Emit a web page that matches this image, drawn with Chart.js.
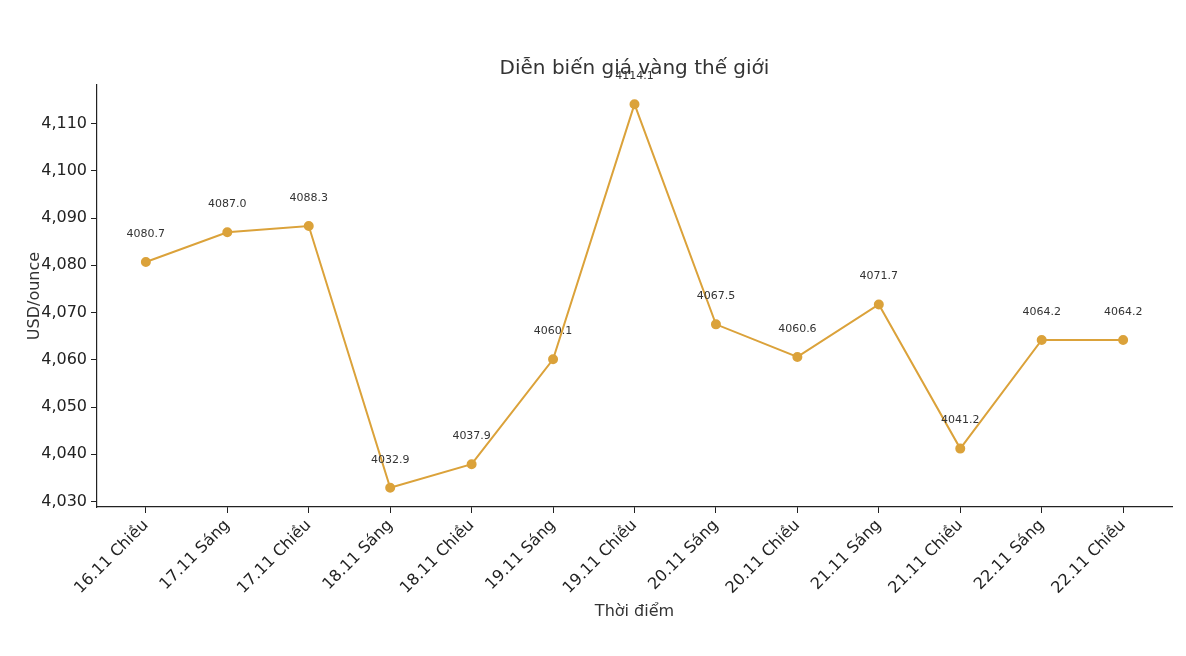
<!DOCTYPE html>
<html><head><meta charset="utf-8">
<script src="https://cdn.jsdelivr.net/npm/chart.js@4"></script>
<style>html,body{margin:0;padding:0;background:#fff}#w{width:1186px;height:656px}</style>
</head><body><div id="w"><canvas id="c"></canvas></div>
<script>
const categories = ["16.11 Chiều","17.11 Sáng","17.11 Chiều","18.11 Sáng","18.11 Chiều","19.11 Sáng","19.11 Chiều","20.11 Sáng","20.11 Chiều","21.11 Sáng","21.11 Chiều","22.11 Sáng","22.11 Chiều"];
const prices = [4080.7,4087.0,4088.3,4032.9,4037.9,4060.1,4114.1,4067.5,4060.6,4071.7,4041.2,4064.2,4064.2];
const yTicks = [4030,4040,4050,4060,4070,4080,4090,4100,4110];
const FONT = "DejaVu Sans";
const color = "#DBA23A";

const labelPlugin = {
  id: 'lbl',
  afterDatasetsDraw(chart) {
    const ctx = chart.ctx;
    const meta = chart.getDatasetMeta(0);
    ctx.save();
    ctx.font = "11px '" + FONT + "'";
    ctx.fillStyle = "#333";
    ctx.textAlign = "center";
    ctx.textBaseline = "middle";
    meta.data.forEach((p, i) => ctx.fillText(prices[i].toFixed(1), p.x, p.y - 28));
    ctx.font = "20px '" + FONT + "'";
    ctx.fillText("Diễn biến giá vàng thế giới", (chart.chartArea.left + chart.chartArea.right) / 2, 69);
    ctx.restore();
  }
};

new Chart(document.getElementById('c'), {
  type: 'line',
  data: { datasets: [{
    data: prices.map((v, i) => ({x: i, y: v})),
    borderColor: color, backgroundColor: color, borderWidth: 2,
    pointRadius: 4, pointHoverRadius: 4, tension: 0
  }]},
  options: {
    responsive: true, maintainAspectRatio: false, animation: false,
    layout: { padding: { top: 85, right: 14, left: 25, bottom: 35 } },
    plugins: { legend: { display: false }, tooltip: { enabled: false } },
    scales: {
      x: {
        type: 'linear', min: -0.6, max: 12.6,
        afterBuildTicks: s => { s.ticks = categories.map((_, i) => ({value: i})); },
        afterFit: s => { s.height = 114; },
        ticks: { autoSkip: false, minRotation: 45, maxRotation: 45, color: '#222',
          font: { family: FONT, size: 16 }, callback: v => categories[v] },
        grid: { drawOnChartArea: false, tickLength: 6, color: '#222' },
        border: { color: '#222', width: 1.2 },
        title: { display: true, text: 'Thời điểm', color: '#333', font: { family: FONT, size: 16 }, padding: 0 }
      },
      y: {
        min: 4028.84, max: 4118.16,
        afterBuildTicks: s => { s.ticks = yTicks.map(v => ({value: v})); },
        afterFit: s => { s.width = 72; },
        ticks: { color: '#222', font: { family: FONT, size: 16 }, padding: 4 },
        grid: { drawOnChartArea: false, tickLength: 6, color: '#222' },
        border: { color: '#222', width: 1.2 },
        title: { display: true, text: 'USD/ounce', color: '#333', font: { family: FONT, size: 16 }, padding: 0 }
      }
    }
  },
  plugins: [labelPlugin]
});
</script></body></html>
